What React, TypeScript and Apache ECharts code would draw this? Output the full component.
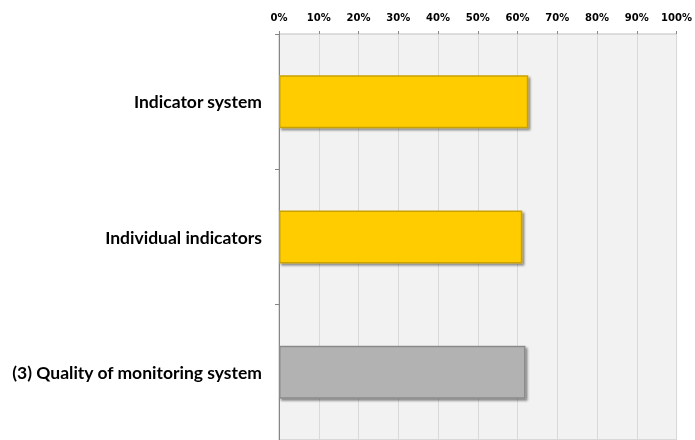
import React, { useEffect, useRef } from "react";
import * as echarts from "echarts";

const categories = [
  "Indicator system",
  "Individual indicators",
  "(3) Quality of monitoring system",
];
const values = [62.7, 61.2, 62.0];
const xTicks = { min: 0, max: 100, interval: 10 };

export default function App() {
  const ref = useRef<HTMLDivElement>(null);
  useEffect(() => {
    if (!ref.current) return;
    const chart = echarts.init(ref.current, undefined, { renderer: "svg" });
    const styles = [
      { fill: "#FFCC00", border: "#C9A200" },
      { fill: "#FFCC00", border: "#C9A200" },
      { fill: "#B2B2B2", border: "#8A8A8A" },
    ];
    chart.setOption({
      animation: false,
      grid: {
        left: 279,
        top: 34,
        width: 400,
        height: 411,
        show: true,
        backgroundColor: "#F2F2F2",
        borderColor: "#BFBFBF",
        borderWidth: 1,
      },
      xAxis: {
        type: "value",
        position: "top",
        min: xTicks.min,
        max: xTicks.max,
        interval: xTicks.interval,
        axisLine: { show: false },
        axisTick: { show: true, length: 3, lineStyle: { color: "#868686" } },
        axisLabel: {
          formatter: "{value}%",
          fontFamily: "DejaVu Sans",
          fontWeight: "bold",
          fontSize: 10,
          color: "#000",
          margin: 12,
        },
        splitLine: { show: true, lineStyle: { color: "#D9D9D9", width: 1 } },
      },
      yAxis: {
        type: "category",
        inverse: true,
        data: categories,
        axisLine: { show: true, lineStyle: { color: "#868686" } },
        axisTick: { show: true, length: 4, lineStyle: { color: "#868686" } },
        axisLabel: {
          fontFamily: "Lato",
          fontWeight: "bold",
          fontSize: 17.5,
          color: "#000",
          margin: 17,
        },
      },
      series: [
        {
          type: "bar",
          barWidth: 53,
          data: values.map((v, i) => ({
            value: v,
            itemStyle: {
              color: styles[i].fill,
              borderColor: styles[i].border,
              borderWidth: 1.5,
              shadowColor: "rgba(0,0,0,0.45)",
              shadowBlur: 2,
              shadowOffsetX: 2,
              shadowOffsetY: 2,
            },
          })),
        },
      ],
    });
    return () => chart.dispose();
  }, []);
  return (
    <div
      ref={ref}
      style={{ position: "fixed", left: 0, top: 0, width: 695, height: 440 }}
    />
  );
}
